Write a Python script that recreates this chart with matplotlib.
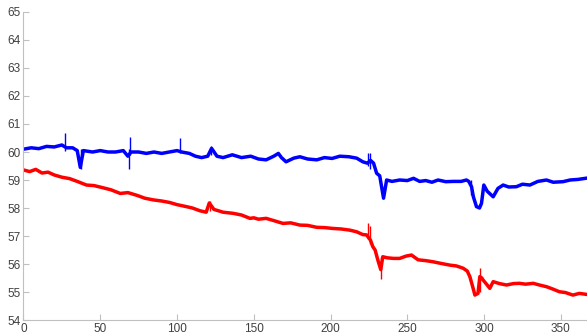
import numpy as np
import matplotlib
matplotlib.use("Agg")
import matplotlib.pyplot as plt

# values (trend of each trace)
blue_t = [0, 5, 10, 15, 20, 25, 28, 32, 35, 37, 39, 45, 50, 55, 60, 65, 68, 70,
          75, 80, 85, 90, 95, 100, 103, 108, 112, 116, 120, 122.5, 126, 130, 136,
          142, 148, 153, 158, 163, 166, 168, 171, 176, 180, 185, 191, 196, 201, 206,
          212, 217, 221, 224, 226, 228, 230, 232, 234.5, 236.5, 240, 245, 250,
          254, 258, 262, 266, 270, 275, 280, 285, 288.5, 290, 291.8, 293, 295, 297,
          298.3, 299.8, 302, 305.9, 309, 312.4, 316, 321, 325, 329.8, 335, 340.6, 345,
          351.4, 356, 361, 366]
blue_v = [60.10, 60.15, 60.12, 60.20, 60.18, 60.25, 60.15, 60.15, 60.05, 59.45,
          60.05, 60.00, 60.05, 60.00, 60.00, 60.05, 59.85, 60.00, 60.00, 59.95,
          60.00, 59.95, 60.00, 60.05, 60.00, 59.95, 59.85, 59.80, 59.85, 60.13,
          59.85, 59.80, 59.90, 59.80, 59.85, 59.75, 59.72, 59.85, 59.95, 59.80, 59.65,
          59.78, 59.83, 59.75, 59.72, 59.80, 59.77, 59.85, 59.83, 59.78, 59.65, 59.60,
          59.70, 59.60, 59.24, 59.15, 58.35, 59.00, 58.95, 59.00, 58.98, 59.06,
          58.95, 58.98, 58.92, 59.00, 58.94, 58.95, 58.95, 59.00, 58.95, 58.76, 58.40,
          58.05, 58.00, 58.17, 58.82, 58.60, 58.40, 58.70, 58.82, 58.75, 58.76, 58.85,
          58.82, 58.95, 59.00, 58.92, 58.94, 59.00, 59.02, 59.06]

red_t = [0, 4, 8, 12, 16, 20, 25, 30, 35, 41, 46, 52, 57, 63, 68, 74, 79, 84.5, 90, 95,
         100, 106, 110, 115, 119, 121, 124, 130, 136.5, 142, 147.5, 150, 153, 158, 163,
         169, 174, 180, 185, 191, 196, 201.5, 207, 212.5, 217, 221, 223.4, 226,
         227.5, 229, 231, 232.7, 234, 237, 241, 245, 249, 252.7, 257, 262, 266.7, 272,
         277.7, 282, 286.3, 289, 290.7, 292.5, 294, 296, 297.2, 298.5, 299.3, 302, 303.7,
         305.9, 310, 314.6, 319, 323, 327, 332, 336, 340.6, 345, 349, 353, 357.8, 362, 366]
red_v = [59.36, 59.30, 59.38, 59.25, 59.28, 59.18, 59.10, 59.05, 58.95, 58.82, 58.80,
         58.72, 58.65, 58.52, 58.55, 58.45, 58.35, 58.29, 58.25, 58.20, 58.12, 58.05,
         58.00, 57.90, 57.85, 58.18, 57.95, 57.85, 57.81, 57.75, 57.63, 57.65, 57.60,
         57.63, 57.55, 57.45, 57.47, 57.39, 57.38, 57.31, 57.30, 57.27, 57.25, 57.21,
         57.15, 57.05, 57.04, 56.85, 56.62, 56.50, 56.10, 55.80, 56.26, 56.22,
         56.20, 56.20, 56.28, 56.32, 56.15, 56.12, 56.08, 56.02, 55.96, 55.93, 55.85,
         55.75, 55.55, 55.20, 54.89, 54.95, 55.55, 55.50, 55.43, 55.25, 55.13, 55.37,
         55.30, 55.25, 55.30, 55.31, 55.28, 55.31, 55.25, 55.19, 55.10, 55.01, 54.98,
         54.89, 54.95, 54.92]

# short thin spikes in the traces: day, low, high
blue_spike_t = [27, 37.5, 68.5, 69.5, 102, 122, 224.5, 226, 291.5]
blue_spike_lo = [60.05, 59.40, 59.40, 59.90, 59.95, 59.90, 59.50, 59.40, 58.45]
blue_spike_hi = [60.68, 60.10, 60.10, 60.55, 60.50, 60.20, 59.95, 59.95, 59.00]
red_spike_t = [121.5, 224.5, 226, 232.7, 297.2]
red_spike_lo = [57.90, 56.90, 56.70, 55.45, 55.00]
red_spike_hi = [58.25, 57.45, 57.35, 56.25, 55.85]

x_ticks = [0, 50, 100, 150, 200, 250, 300, 350]
y_ticks = list(range(54, 66))

plt.rcParams['font.family'] = ['Liberation Sans', 'DejaVu Sans']

fig = plt.figure(figsize=(5.87, 3.36), dpi=100)
ax = fig.add_axes([0.04, 0.0476, 0.96, 0.9167])

ax.plot(blue_t, blue_v, color=(0, 0, 1), lw=2.5, solid_joinstyle='round')
ax.plot(red_t, red_v, color=(1, 0, 0), lw=2.5, solid_joinstyle='round')
ax.vlines(blue_spike_t, blue_spike_lo, blue_spike_hi, color=(0, 0, 1), lw=1.0)
ax.vlines(red_spike_t, red_spike_lo, red_spike_hi, color=(1, 0, 0), lw=1.0)

ax.set_xlim(0, 367)
ax.set_ylim(54, 65)
ax.set_xticks(x_ticks)
ax.set_yticks(y_ticks)

for side in ['top', 'right']:
    ax.spines[side].set_visible(False)
for side in ['left', 'bottom']:
    ax.spines[side].set_color('#c0c0c0')
    ax.spines[side].set_linewidth(0.8)

ax.tick_params(direction='in', length=4, width=0.8, color='#c0c0c0',
               labelsize=8.5, labelcolor='#404040', pad=2)

fig.savefig('out.png', dpi=100)
